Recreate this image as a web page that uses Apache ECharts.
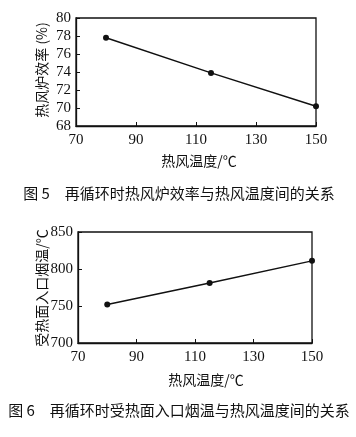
<!DOCTYPE html>
<html><head><meta charset="utf-8">
<script src="https://cdn.jsdelivr.net/npm/echarts@6/dist/echarts.min.js"></script>
<style>html,body{margin:0;padding:0;background:#fff}#c{width:356px;height:437px}</style>
</head><body><div id="c"></div>
<script>
const xTemps = [80, 115, 150];
const efficiency = [77.8, 73.9, 70.2];
const inletTemp = [752, 781, 811];
const xTitle = '热风温度/℃';
const yTitle1 = '热风炉效率 (%)';
const yTitle2 = '受热面入口烟温/℃';
const caption1 = '图 5　再循环时热风炉效率与热风温度间的关系';
const caption2 = '图 6　再循环时受热面入口烟温与热风温度间的关系';

const serif = 'Liberation Serif';
const cjk = 'Noto Sans CJK SC';
const chart = echarts.init(document.getElementById('c'));
const axisCommon = {
  axisLine: {show: true, lineStyle: {color: '#111', width: 1.3}},
  axisTick: {show: true, inside: true, length: 4, lineStyle: {color: '#111'}},
  splitLine: {show: false},
  axisLabel: {color: '#111', fontFamily: serif, fontSize: 15}
};
function xAxis(gi) {
  return Object.assign({}, axisCommon, {
    type: 'value', gridIndex: gi, min: 70, max: 150, interval: 20,
    axisLabel: Object.assign({}, axisCommon.axisLabel, {margin: 7})
  });
}
chart.setOption({
  animation: false,
  grid: [
    {left: 76, top: 18, width: 240, height: 108, show: true, borderColor: '#111', borderWidth: 1.3},
    {left: 78, top: 232, width: 234, height: 111, show: true, borderColor: '#111', borderWidth: 1.3}
  ],
  xAxis: [xAxis(0), xAxis(1)],
  yAxis: [
    Object.assign({}, axisCommon, {type: 'value', gridIndex: 0, min: 68, max: 80, interval: 2,
      axisLabel: Object.assign({}, axisCommon.axisLabel, {margin: 5})}),
    Object.assign({}, axisCommon, {type: 'value', gridIndex: 1, min: 700, max: 850, interval: 50,
      axisLabel: Object.assign({}, axisCommon.axisLabel, {margin: 5})})
  ],
  series: [
    {type: 'line', xAxisIndex: 0, yAxisIndex: 0, data: xTemps.map((x, i) => [x, efficiency[i]]),
      symbol: 'circle', symbolSize: 6, itemStyle: {color: '#111'}, lineStyle: {color: '#111', width: 1.5}},
    {type: 'line', xAxisIndex: 1, yAxisIndex: 1, data: xTemps.map((x, i) => [x, inletTemp[i]]),
      symbol: 'circle', symbolSize: 6, itemStyle: {color: '#111'}, lineStyle: {color: '#111', width: 1.5}}
  ],
  graphic: [
    {type: 'text', x: 199, y: 161, style: {text: xTitle, font: '14px "' + cjk + '"', fill: '#111', align: 'center', verticalAlign: 'middle'}},
    {type: 'text', x: 206, y: 380, style: {text: xTitle, font: '14px "' + cjk + '"', fill: '#111', align: 'center', verticalAlign: 'middle'}},
    {type: 'text', x: 42, y: 70, rotation: Math.PI / 2, style: {text: yTitle1, font: '14px "' + cjk + '"', fill: '#111', align: 'center', verticalAlign: 'middle'}},
    {type: 'text', x: 42, y: 288, rotation: Math.PI / 2, style: {text: yTitle2, font: '14px "' + cjk + '"', fill: '#111', align: 'center', verticalAlign: 'middle'}},
    {type: 'text', x: 179, y: 193, style: {text: caption1, font: '15px "' + cjk + '"', fill: '#111', align: 'center', verticalAlign: 'middle'}},
    {type: 'text', x: 179, y: 410, style: {text: caption2, font: '15px "' + cjk + '"', fill: '#111', align: 'center', verticalAlign: 'middle'}}
  ]
});
</script></body></html>
